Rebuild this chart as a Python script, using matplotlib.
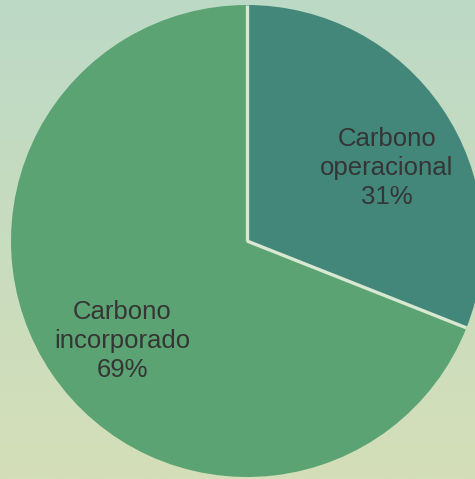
import numpy as np
import matplotlib.pyplot as plt
from matplotlib.colors import LinearSegmentedColormap

labels = ['Carbono\noperacional', 'Carbono\nincorporado']
shares = [31, 69]
colors = ['#42877a', '#5ba372']

W, H = 475, 479
fig = plt.figure(figsize=(W / 100, H / 100), dpi=100)
ax = fig.add_axes([0, 0, 1, 1])

# soft vertical background gradient, light green on top to pale olive below
grad = np.linspace(0, 1, 256).reshape(-1, 1)
bg = LinearSegmentedColormap.from_list('bg', ['#bcd9c6', '#d4dfb8'])
ax.imshow(grad, cmap=bg, extent=[0, W, 0, H], origin='upper', aspect='auto', zorder=0)

cx, cy, r = 247, H - 241, 236
wedges, _ = ax.pie(shares, colors=colors, startangle=90, counterclock=False,
                   center=(cx, cy), radius=r, frame=True,
                   wedgeprops=dict(linewidth=0))

# light separators only along the radial edges
for w in wedges:
    t = np.deg2rad(w.theta1)
    ax.plot([cx, cx + r * np.cos(t)], [cy, cy + r * np.sin(t)],
            color='#d9e8d0', lw=2.4, solid_capstyle='butt', zorder=3)

ax.set_xlim(0, W)
ax.set_ylim(0, H)
ax.set_aspect('auto')
ax.axis('off')

label_pos = [(387, H - 168), (122, H - 341)]
for (x, y), lab, v in zip(label_pos, labels, shares):
    ax.text(x, y, f'{lab}\n{v}%', ha='center', va='center', fontsize=18.5,
            family='Liberation Sans', color='#353535', linespacing=1.25, zorder=5)

fig.savefig('out.png', dpi=100)
